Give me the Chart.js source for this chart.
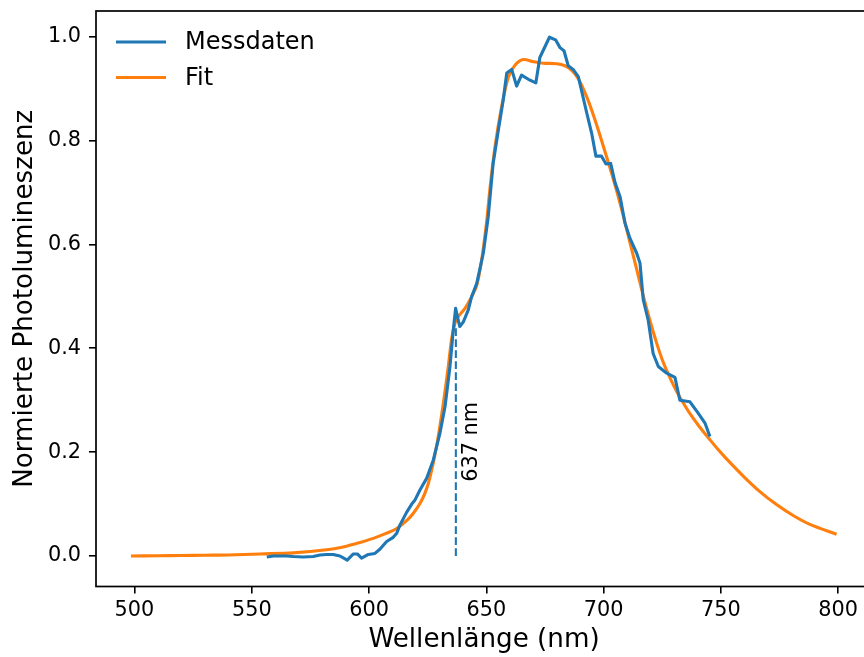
<!DOCTYPE html>
<html>
<head>
<meta charset="utf-8">
<script src="https://cdn.jsdelivr.net/npm/chart.js@4"></script>
<style>
    html, body { margin: 0; padding: 0; background: #fff; }
    #wrap { width: 864px; height: 657px; overflow: hidden; }
    canvas { display: block; }
</style>
</head>
<body>
<div id="wrap"><canvas id="pl-chart" width="880" height="657"></canvas></div>
<script>
const measWavelength = [556.4, 559.2, 564.9, 567.7, 572.0, 576.2, 579.1, 581.9, 584.7, 587.6, 590.7, 593.3,
    595.0, 596.8, 599.7, 602.5, 604.6, 607.5, 610.3, 611.8, 613.2, 616.0, 618.2, 619.6, 621.7, 624.6, 627.4,
    630.2, 632.4, 634.5, 635.9, 636.9, 638.0, 638.7, 640.2, 642.3, 643.7, 645.9, 648.7, 650.8, 652.9, 655.1,
    657.2, 658.7, 660.8, 662.9, 665.0, 667.9, 671.1, 672.8, 676.9, 679.5, 681.4, 683.1, 684.9, 687.0, 689.2,
    692.7, 694.9, 696.7, 699.1, 701.0, 703.0, 704.8, 707.0, 709.1, 711.2, 714.1, 715.5, 716.9, 719.0, 721.1,
    723.3, 726.9, 730.4, 732.5, 736.8, 740.3, 743.2, 745.3];
const measIntensity = [-0.002, 0.000, 0.000, -0.001, -0.002, -0.001, 0.002, 0.003, 0.003, 0.000, -0.008, 0.004,
    0.004, -0.004, 0.003, 0.005, 0.013, 0.028, 0.036, 0.044, 0.060, 0.084, 0.100, 0.108, 0.127, 0.150, 0.185,
    0.236, 0.288, 0.365, 0.435, 0.477, 0.454, 0.442, 0.451, 0.474, 0.499, 0.525, 0.583, 0.653, 0.756, 0.820,
    0.878, 0.930, 0.937, 0.905, 0.926, 0.918, 0.911, 0.960, 0.999, 0.994, 0.979, 0.973, 0.944, 0.937, 0.923,
    0.855, 0.814, 0.770, 0.770, 0.755, 0.756, 0.720, 0.692, 0.641, 0.612, 0.583, 0.564, 0.493, 0.454, 0.390,
    0.365, 0.352, 0.344, 0.300, 0.297, 0.275, 0.256, 0.230];

// Fit
const fitWavelength = [498.5, 510, 520, 530, 540, 553.5, 567.7, 581.9, 590.4, 596.1, 601.8, 607.5, 611.8,
    616.0, 618.8, 621.7, 624.0, 626.0, 628.8, 631.6, 633.8, 635.2, 636.6, 638.0, 640.9, 643.7, 645.9, 648.0,
    650.1, 651.5, 653.7, 656.5, 659.3, 662.2, 665.7, 670.0, 674.3, 680.0, 683.5, 686.4, 689.2, 692.8, 696.3,
    699.8, 703.4, 705.5, 708.4, 711.2, 714.1, 716.9, 719.7, 722.6, 725.4, 728.3, 731.1, 733.9, 736.8, 741.0,
    745.3, 748.8, 752.4, 759.5, 766.6, 773.7, 780.8, 787.9, 799.3];
const fitIntensity = [0.000, 0.0005, 0.001, 0.0015, 0.002, 0.004, 0.006, 0.012, 0.019, 0.026, 0.034, 0.044, 0.053,
    0.068, 0.082, 0.101, 0.123, 0.152, 0.212, 0.292, 0.366, 0.418, 0.448, 0.461, 0.477, 0.499, 0.521, 0.570,
    0.643, 0.706, 0.788, 0.865, 0.921, 0.945, 0.956, 0.952, 0.949, 0.948, 0.944, 0.935, 0.919, 0.884, 0.840,
    0.790, 0.737, 0.704, 0.655, 0.604, 0.552, 0.501, 0.454, 0.410, 0.373, 0.343, 0.317, 0.295, 0.274, 0.248,
    0.224, 0.205, 0.187, 0.154, 0.124, 0.099, 0.078, 0.061, 0.042];

// Markierung bei 637 nm
const markerWavelength = [637, 637];
const markerIntensity = [0, 0.443];
const markerText = '637 nm';

const xTicks = [500, 550, 600, 650, 700, 750, 800];
const yTicks = [0.0, 0.2, 0.4, 0.6, 0.8, 1.0];

const toPoints = (xs, ys) => xs.map((x, i) => ({ x: x, y: ys[i] }));

const FONT = 'DejaVu Sans';

// Rahmen, Legende und Beschriftung
const extrasPlugin = {
    id: 'extras',
    afterDatasetsDraw(chart) {
        const { ctx, chartArea: a, scales } = chart;
        ctx.save();
        ctx.strokeStyle = '#000';
        ctx.lineWidth = 1.7;
        ctx.strokeRect(a.left, a.top, a.right - a.left, a.bottom - a.top);

        // Legende
        ctx.font = '24px "' + FONT + '"';
        ctx.textBaseline = 'middle';
        ctx.textAlign = 'left';
        chart.data.datasets.slice(0, 2).forEach((ds, i) => {
            const y = a.top + 31 + i * 35.5;
            ctx.strokeStyle = ds.borderColor;
            ctx.lineWidth = 3.1;
            ctx.beginPath();
            ctx.moveTo(a.left + 20, y);
            ctx.lineTo(a.left + 70, y);
            ctx.stroke();
            ctx.fillStyle = '#000';
            ctx.fillText(ds.label, a.left + 89, y + 1);
        });

        // Text neben der gestrichelten Linie
        const tx = scales.x.getPixelForValue(643.7);
        const ty = scales.y.getPixelForValue(0.143);
        ctx.translate(tx, ty);
        ctx.rotate(-Math.PI / 2);
        ctx.font = '20.8px "' + FONT + '"';
        ctx.fillStyle = '#000';
        ctx.textAlign = 'left';
        ctx.textBaseline = 'middle';
        ctx.fillText(markerText, 0, 0);
        ctx.restore();
    }
};

const ctx = document.getElementById('pl-chart').getContext('2d');
new Chart(ctx, {
    type: 'scatter',
    data: {
        datasets: [
            {
                label: 'Messdaten',
                data: toPoints(measWavelength, measIntensity),
                showLine: true,
                borderColor: '#1f77b4',
                backgroundColor: '#1f77b4',
                borderWidth: 3.1,
                pointRadius: 0,
                tension: 0,
                borderJoinStyle: 'round'
            },
            {
                label: 'Fit',
                data: toPoints(fitWavelength, fitIntensity),
                showLine: true,
                borderColor: '#ff7f0e',
                backgroundColor: '#ff7f0e',
                borderWidth: 3.1,
                pointRadius: 0,
                tension: 0.3,
                borderJoinStyle: 'round'
            },
            {
                label: markerText,
                data: toPoints(markerWavelength, markerIntensity),
                showLine: true,
                borderColor: '#1f77b4',
                borderWidth: 2.1,
                borderDash: [7.7, 3.3],
                pointRadius: 0
            }
        ]
    },
    options: {
        responsive: false,
        animation: false,
        devicePixelRatio: 1,
        layout: { padding: { top: 11, right: 8, left: 0, bottom: 0 } },
        plugins: {
            legend: { display: false },
            tooltip: { enabled: false }
        },
        scales: {
            x: {
                type: 'linear',
                min: 483.6,
                max: 814.4,
                afterBuildTicks: scale => { scale.ticks = xTicks.map(v => ({ value: v })); },
                afterFit: scale => {
                    scale.height = 70.5;
                    scale.paddingLeft = 0;
                    scale.paddingRight = 0;
                },
                grid: { drawOnChartArea: false, drawTicks: true, tickLength: 7, color: '#000', lineWidth: 1.6 },
                border: { display: false },
                ticks: {
                    color: '#000',
                    padding: 4.5,
                    maxRotation: 0,
                    font: { family: FONT, size: 20.8 },
                    callback: v => String(v)
                },
                title: {
                    display: true,
                    text: 'Wellenlänge (nm)',
                    color: '#000',
                    font: { family: FONT, size: 26.2 },
                    padding: { top: 0, bottom: 1 }
                }
            },
            y: {
                type: 'linear',
                min: -0.0587,
                max: 1.0495,
                afterBuildTicks: scale => { scale.ticks = yTicks.map(v => ({ value: v })); },
                afterFit: scale => {
                    scale.width = 96;
                    scale.paddingTop = 0;
                    scale.paddingBottom = 0;
                },
                grid: { drawOnChartArea: false, drawTicks: true, tickLength: 7, color: '#000', lineWidth: 1.6 },
                border: { display: false },
                ticks: {
                    color: '#000',
                    padding: 8,
                    font: { family: FONT, size: 20.8 },
                    callback: v => Number(v).toFixed(1)
                },
                title: {
                    display: true,
                    text: 'Normierte Photolumineszenz',
                    color: '#000',
                    font: { family: FONT, size: 26.2 },
                    padding: { top: 9.5, bottom: 0 }
                }
            }
        }
    },
    plugins: [extrasPlugin]
});
</script>
</body>
</html>
